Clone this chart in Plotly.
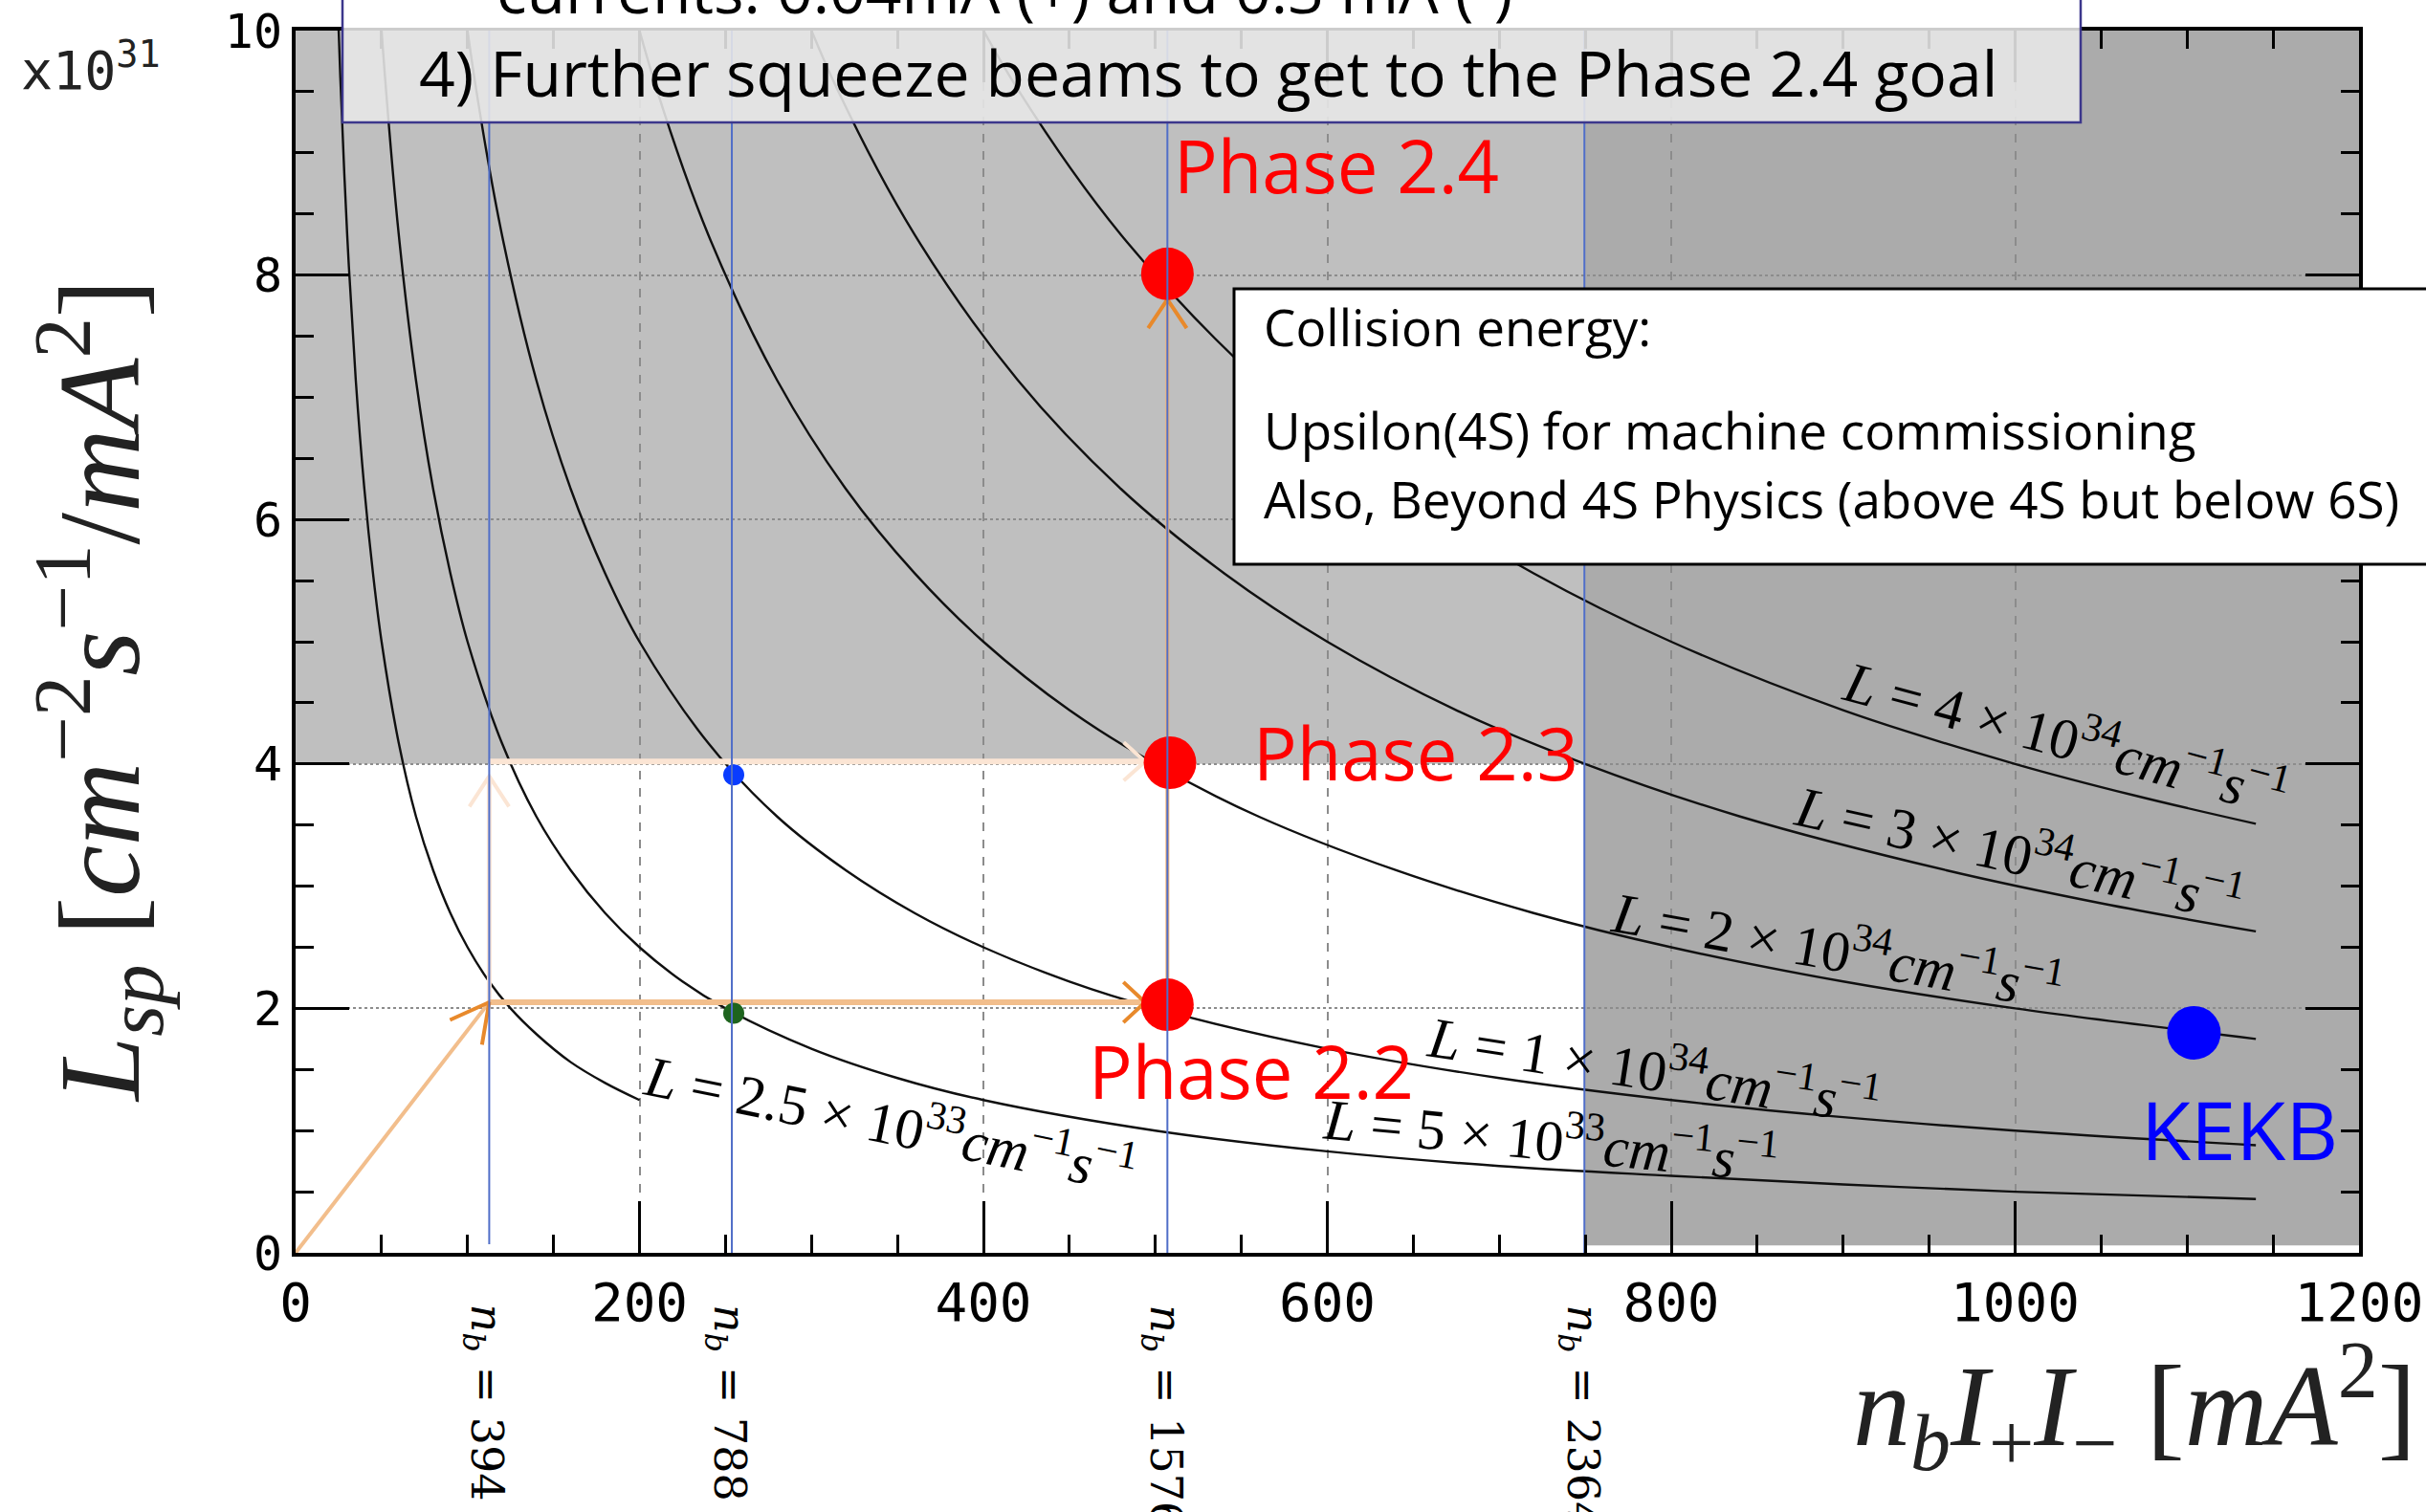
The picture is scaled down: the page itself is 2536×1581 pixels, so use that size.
import math
import plotly.graph_objects as go

# ---------------- data ----------------
# iso-luminosity curves (x = n_b I+ I- [mA^2], y = L_sp [x1e31])
c4e34_x = [384, 420, 480, 560, 640, 720, 800, 900, 1000, 1070, 1140]
c4e34_y = [10.42, 9.52, 8.33, 7.14, 6.25, 5.56, 5.00, 4.44, 4.00, 3.74, 3.51]
c3e34_x = [288, 315, 360, 420, 480, 540, 600, 675, 750, 840, 960, 1050, 1140]
c3e34_y = [10.42, 9.52, 8.33, 7.14, 6.25, 5.56, 5.00, 4.44, 4.00, 3.57, 3.13, 2.86, 2.63]
c2e34_x = [192, 210, 240, 280, 320, 360, 400, 450, 500, 560, 640, 720, 800, 900, 1000, 1140]
c2e34_y = [10.42, 9.52, 8.33, 7.14, 6.25, 5.56, 5.00, 4.44, 4.00, 3.57, 3.13, 2.78, 2.50, 2.22, 2.00, 1.75]
c1e34_x = [96, 105, 120, 140, 160, 180, 200, 240, 280, 320, 360, 400, 450, 500, 600, 700, 800, 900, 1000, 1140]
c1e34_y = [10.42, 9.52, 8.33, 7.14, 6.25, 5.56, 5.00, 4.17, 3.57, 3.13, 2.78, 2.50, 2.22, 2.00, 1.67, 1.43, 1.25, 1.11, 1.00, 0.88]
c5e33_x = [48, 52, 60, 70, 80, 90, 100, 120, 140, 160, 180, 200, 225, 250, 300, 350, 400, 500, 600, 700, 800, 900, 1000, 1140]
c5e33_y = [10.42, 9.62, 8.33, 7.14, 6.25, 5.56, 5.00, 4.17, 3.57, 3.13, 2.78, 2.50, 2.22, 2.00, 1.67, 1.43, 1.25, 1.00, 0.83, 0.71, 0.63, 0.56, 0.50, 0.44]
c25e33_x = [24, 26, 30, 35, 40, 45, 50, 60, 70, 80, 90, 100, 112, 125, 140, 160, 180, 200]
c25e33_y = [10.42, 9.62, 8.33, 7.14, 6.25, 5.56, 5.00, 4.17, 3.57, 3.13, 2.78, 2.50, 2.23, 2.00, 1.79, 1.56, 1.39, 1.25]

curve_labels = [
    "<i>L</i> = 4 × 10<sup>34</sup><i>cm</i><sup>−1</sup><i>s</i><sup>−1</sup>",
    "<i>L</i> = 3 × 10<sup>34</sup><i>cm</i><sup>−1</sup><i>s</i><sup>−1</sup>",
    "<i>L</i> = 2 × 10<sup>34</sup><i>cm</i><sup>−1</sup><i>s</i><sup>−1</sup>",
    "<i>L</i> = 1 × 10<sup>34</sup><i>cm</i><sup>−1</sup><i>s</i><sup>−1</sup>",
    "<i>L</i> = 5 × 10<sup>33</sup><i>cm</i><sup>−1</sup><i>s</i><sup>−1</sup>",
    "<i>L</i> = 2.5 × 10<sup>33</sup><i>cm</i><sup>−1</sup><i>s</i><sup>−1</sup>",
]
curve_label_x = [1030, 1003, 897, 790, 730, 346]
curve_label_y = [4.24, 3.29, 2.50, 1.52, 0.95, 1.08]
curve_label_angle = [15, 12.5, 10, 8.7, 5.5, 11.5]

# bunch-number lines
nb_x = [112.6, 253.7, 507, 749.5]
nb_y0 = [0.07, 0, 0, 0]
nb_y1 = [10, 10, 10, 10]
nb_text = ["394", "788", "1576", "2364"]

# phase points
phase_x = [507, 508.5, 507]
phase_y = [2.03, 4.01, 8.01]
phase_names = ["Phase 2.2", "Phase 2.3", "Phase 2.4"]
kekb_x = [1104]
kekb_y = [1.80]
green_x = [254.8]
green_y = [1.96]
blue_x = [254.8]
blue_y = [3.91]

# arrows (path segments)
arrow1_x = [0, 112.6]
arrow1_y = [0, 2.05]
arrow2_x = [112.6, 494]
arrow2_y = [2.05, 2.05]
arrow3_x = [507, 507]
arrow3_y = [2.03, 7.80]
faded1_x = [112.6, 112.6]
faded1_y = [2.05, 3.90]
faded2_x = [112.6, 494]
faded2_y = [4.02, 4.02]

# shaded regions
regionA = dict(x0=0, x1=749.5, y0=4, y1=10)
regionB = dict(x0=749.5, x1=1200, y0=0.06, y1=10)

x_ticks = [0, 200, 400, 600, 800, 1000, 1200]
y_ticks = [0, 2, 4, 6, 8, 10]
X_RANGE = [0, 1200]
Y_RANGE = [0, 10]

# ---------------- layout geometry ----------------
W, H = 2536, 1581
ML, MR, MT, MB = 309, 70, 32, 271
PW = W - ML - MR
PH = H - MT - MB
XPX = PW / (X_RANGE[1] - X_RANGE[0])   # pixels per x unit
YPX = PH / (Y_RANGE[1] - Y_RANGE[0])   # pixels per y unit


def fx(px):
    return (px - ML) / PW


def fy(py):
    return (H - MB - py) / PH


fig = go.Figure()

curve_sets = [(c4e34_x, c4e34_y), (c3e34_x, c3e34_y), (c2e34_x, c2e34_y),
              (c1e34_x, c1e34_y), (c5e33_x, c5e33_y), (c25e33_x, c25e33_y)]
for cx, cy in curve_sets:
    fig.add_trace(go.Scatter(x=cx, y=cy, mode="lines",
                             line=dict(color="#101010", width=2.4, shape="spline", smoothing=1.0),
                             hoverinfo="skip", showlegend=False))

FADED = "rgb(251,229,212)"
LIGHT_OR = "rgb(242,190,140)"
DARK_OR = "rgb(232,137,43)"

for ax_, ay_, col, w in [(faded1_x, faded1_y, FADED, 5), (faded2_x, faded2_y, FADED, 6),
                         (arrow1_x, arrow1_y, LIGHT_OR, 4), (arrow2_x, arrow2_y, LIGHT_OR, 6),
                         (arrow3_x, arrow3_y, "rgb(240,180,120)", 4)]:
    fig.add_trace(go.Scatter(x=ax_, y=ay_, mode="lines", line=dict(color=col, width=w),
                             hoverinfo="skip", showlegend=False))


# chevron arrowheads: arms are drawn back from each arrow tip (arm size in screen pixels)
def chevron(x, y, ang, half, length, color, width):
    a = math.radians(ang)
    h = math.radians(half)
    bx, by = -math.cos(a), -math.sin(a)   # backwards direction (y up)
    xs, ys = [], []
    for s in (1, -1):
        hx = bx * math.cos(s * h) - by * math.sin(s * h)
        hy = bx * math.sin(s * h) + by * math.cos(s * h)
        xs.append(x + hx * length / XPX)
        ys.append(y + hy * length / YPX)
    fig.add_trace(go.Scatter(x=[xs[0], x, xs[1]], y=[ys[0], y, ys[1]], mode="lines",
                             line=dict(color=color, width=width),
                             hoverinfo="skip", showlegend=False))


chevron(faded2_x[1], faded2_y[1], 0, 42, 30, FADED, 4)
chevron(faded1_x[1], faded1_y[1], 90, 33, 38, FADED, 4)
ang1 = math.degrees(math.atan2((arrow1_y[1] - arrow1_y[0]) * YPX, (arrow1_x[1] - arrow1_x[0]) * XPX))
chevron(arrow1_x[1], arrow1_y[1], ang1, 28, 45, DARK_OR, 4)
chevron(arrow2_x[1], arrow2_y[1], 0, 43, 31, DARK_OR, 4)
chevron(arrow3_x[1], arrow3_y[1], 90, 34, 36, DARK_OR, 4)

fig.add_trace(go.Scatter(x=phase_x, y=phase_y, mode="markers",
                         marker=dict(color="#ff0000", size=55, line=dict(width=0)),
                         hoverinfo="skip", showlegend=False))
fig.add_trace(go.Scatter(x=kekb_x, y=kekb_y, mode="markers",
                         marker=dict(color="#0000ff", size=56, line=dict(width=0)),
                         hoverinfo="skip", showlegend=False))
fig.add_trace(go.Scatter(x=green_x, y=green_y, mode="markers",
                         marker=dict(color="#1e641e", size=22, line=dict(width=0)),
                         hoverinfo="skip", showlegend=False))
fig.add_trace(go.Scatter(x=blue_x, y=blue_y, mode="markers",
                         marker=dict(color="#0a3cff", size=22, line=dict(width=0)),
                         hoverinfo="skip", showlegend=False))

for xv, y0, y1 in zip(nb_x, nb_y0, nb_y1):
    fig.add_trace(go.Scatter(x=[xv, xv], y=[y0, y1], mode="lines",
                             line=dict(color="rgb(80,110,200)", width=2),
                             hoverinfo="skip", showlegend=False))

shapes = [
    dict(type="rect", xref="x", yref="y", layer="below", fillcolor="#bfbfbf",
         line=dict(width=0), **regionA),
    dict(type="rect", xref="x", yref="y", layer="below", fillcolor="#ababab",
         line=dict(width=0), **regionB),
    # top boxes
    dict(type="rect", xref="paper", yref="paper", layer="above",
         x0=fx(359), x1=fx(2175), y0=fy(29), y1=fy(-20), fillcolor="white", line=dict(width=0)),
    dict(type="rect", xref="paper", yref="paper", layer="above",
         x0=fx(359), x1=fx(2175), y0=fy(128), y1=fy(29), fillcolor="rgba(232,232,232,0.88)",
         line=dict(width=0)),
    dict(type="rect", xref="paper", yref="paper", layer="above",
         x0=fx(358), x1=fx(2175), y0=fy(128), y1=fy(-20), fillcolor="rgba(0,0,0,0)",
         line=dict(color="rgb(60,55,140)", width=2.5)),
    # collision energy box
    dict(type="rect", xref="paper", yref="paper", layer="above",
         x0=fx(1290), x1=fx(2570), y0=fy(590), y1=fy(302), fillcolor="white",
         line=dict(color="black", width=3)),
]

ann = []
MATH = "Liberation Serif"
for t, xv, yv, a in zip(curve_labels, curve_label_x, curve_label_y, curve_label_angle):
    ann.append(dict(x=xv, y=yv, xref="x", yref="y", text=t, showarrow=False, textangle=a,
                    font=dict(family=MATH, size=60, color="black"),
                    xanchor="center", yanchor="middle"))

for xv, t in zip(nb_x, nb_text):
    ann.append(dict(x=xv, y=fy(1362), xref="x", yref="paper", xshift=-5,
                    text="<i>n</i><sub><i>b</i></sub> = " + t,
                    showarrow=False, textangle=90,
                    font=dict(family="DejaVu Serif", size=46, color="black"),
                    xanchor="center", yanchor="top"))

# phase labels
phase_lab_pos = [(460, 1.49), (555.5, 4.10), (509.5, 8.90)]
for name, (xv, yv) in zip(phase_names, phase_lab_pos):
    ann.append(dict(x=xv, y=yv, xref="x", yref="y", text=name, showarrow=False,
                    font=dict(family="Open Sans", size=76, color="#ff0000"),
                    xanchor="left", yanchor="middle"))
ann.append(dict(x=1072, y=1.02, xref="x", yref="y", text="KEKB", showarrow=False,
                font=dict(family="Open Sans", size=85, color="#0000ff"),
                xanchor="left", yanchor="middle"))

# box texts
ann.append(dict(x=fx(517), y=fy(-12), xref="paper", yref="paper",
                text="currents: 0.04mA (+) and 0.3 mA (-)", showarrow=False,
                font=dict(family="Open Sans", size=66, color="black"),
                xanchor="left", yanchor="middle"))
ann.append(dict(x=fx(436), y=fy(75), xref="paper", yref="paper",
                text="4) Further squeeze beams to get to the Phase 2.4 goal", showarrow=False,
                font=dict(family="Open Sans", size=66, color="black"),
                xanchor="left", yanchor="middle"))
for t, py in [("Collision energy:", 342),
              ("Upsilon(4S) for machine commissioning", 450),
              ("Also, Beyond 4S Physics (above 4S but below 6S)", 521)]:
    ann.append(dict(x=fx(1319), y=fy(py), xref="paper", yref="paper", text=t, showarrow=False,
                    font=dict(family="Open Sans", size=53, color="black"),
                    xanchor="left", yanchor="middle"))

# axis titles and multiplier
ann.append(dict(x=fx(104), y=fy(723), xref="paper", yref="paper",
                text="<i>L</i><sub><i>sp</i></sub> [<i>cm</i><sup>−2</sup><i>s</i><sup>−1</sup>/<i>mA</i><sup>2</sup>]",
                showarrow=False, textangle=-90,
                font=dict(family=MATH, size=121, color="#222"),
                xanchor="center", yanchor="middle"))
ann.append(dict(x=fx(2528), y=fy(1470), xref="paper", yref="paper",
                text="<i>n</i><sub><i>b</i></sub><i>I</i><sub>+</sub><i>I</i><sub>−</sub> [<i>mA</i><sup>2</sup>]",
                showarrow=False,
                font=dict(family=MATH, size=120, color="#222"),
                xanchor="right", yanchor="middle"))
ann.append(dict(x=fx(20), y=fy(70), xref="paper", yref="paper",
                text="x10<sup>31</sup>", showarrow=False,
                font=dict(family="DejaVu Sans Mono", size=55, color="#222"),
                xanchor="left", yanchor="middle"))

TICKFONT = "DejaVu Sans Mono"
fig.update_layout(
    width=W, height=H, autosize=False,
    margin=dict(l=ML, r=MR, t=MT, b=MB, pad=0),
    paper_bgcolor="white", plot_bgcolor="white",
    showlegend=False,
    shapes=shapes, annotations=ann,
    xaxis=dict(range=X_RANGE, tickvals=x_ticks, ticktext=[str(v) for v in x_ticks],
               ticks="inside", ticklen=54, tickwidth=3, tickcolor="black",
               showline=True, linewidth=4, linecolor="black", mirror="ticks",
               showgrid=True, gridcolor="#8c8c8c", gridwidth=1.5, griddash="dash",
               zeroline=False, automargin=False,
               tickfont=dict(family=TICKFONT, size=56, color="black"),
               minor=dict(dtick=50, tick0=0, ticks="inside", ticklen=19, tickwidth=3,
                          tickcolor="black", showgrid=False),
               fixedrange=True),
    yaxis=dict(range=Y_RANGE, tickvals=y_ticks, ticktext=[str(v) for v in y_ticks],
               ticks="inside", ticklen=56, tickwidth=3, tickcolor="black",
               showline=True, linewidth=4, linecolor="black", mirror="ticks",
               showgrid=True, gridcolor="#8c8c8c", gridwidth=2, griddash="dot",
               zeroline=False, automargin=False,
               tickfont=dict(family=TICKFONT, size=50, color="black"),
               minor=dict(dtick=0.5, tick0=0, ticks="inside", ticklen=19, tickwidth=3,
                          tickcolor="black", showgrid=False),
               fixedrange=True),
)

fig.write_html("out.html")
